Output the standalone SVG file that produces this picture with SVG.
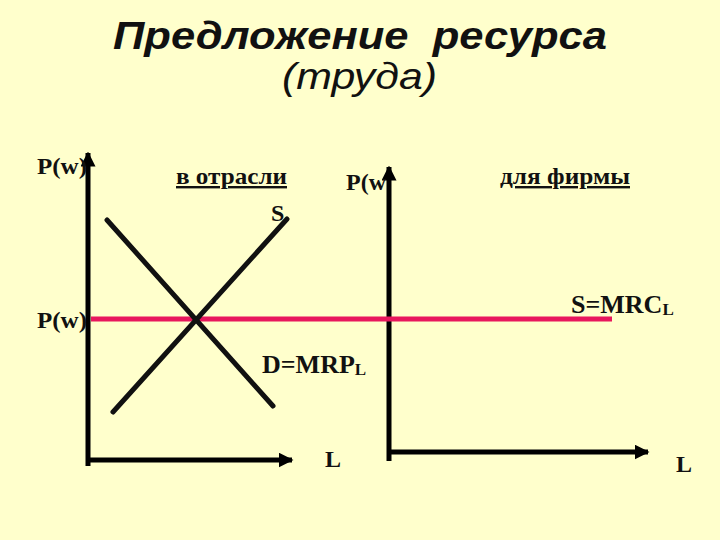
<svg xmlns="http://www.w3.org/2000/svg" width="720" height="540" viewBox="0 0 720 540">
<defs>
<marker id="ah" viewBox="0 0 10 10" refX="9" refY="5" markerWidth="3" markerHeight="3" orient="auto" markerUnits="strokeWidth">
<path d="M0,0 L10,5 L0,10 z" fill="#000"/>
</marker>
<style>
.ax{stroke:#000;stroke-width:5;fill:none}
.ln{stroke:#111;stroke-width:5;fill:none;stroke-linecap:round}
.t{font-family:"Liberation Serif","Times New Roman",serif;font-weight:bold;fill:#111;font-size:24px}
.big{font-size:26px}
.sub{font-size:17px}
.ttl{font-family:"Liberation Sans",Arial,sans-serif;fill:#111}
</style>
</defs>
<rect width="720" height="540" fill="#FFFFCC"/>
<g id="title">
<text class="ttl" x="113" y="49" font-size="39" font-weight="bold" font-style="italic" textLength="494" lengthAdjust="spacingAndGlyphs" xml:space="preserve">Предложение  ресурса</text>
<text class="ttl" x="282" y="89" font-size="37" font-style="italic" textLength="155" lengthAdjust="spacingAndGlyphs">(труда)</text>
</g>
<g id="connectors">
<line class="ax" x1="88" y1="466" x2="88" y2="153" marker-end="url(#ah)"/>
<line class="ax" x1="86" y1="460" x2="292" y2="460" marker-end="url(#ah)"/>
<line class="ax" x1="389" y1="461" x2="389" y2="167" marker-end="url(#ah)"/>
<line class="ax" x1="387" y1="452" x2="648" y2="452" marker-end="url(#ah)"/>
<line x1="91" y1="319" x2="612" y2="319" stroke="#E8175D" stroke-width="5"/>
<line class="ln" x1="107" y1="220" x2="273" y2="406"/>
<line class="ln" x1="113" y1="412" x2="287" y2="219"/>
</g>
<g id="labels-industry">
<text class="t" x="37" y="174" textLength="50" lengthAdjust="spacingAndGlyphs">P(w)</text>
<text class="t" x="176" y="184" textLength="111" lengthAdjust="spacingAndGlyphs" text-decoration="underline">в отрасли</text>
<text class="t" x="271" y="221">S</text>
<text class="t" x="37" y="328" textLength="50" lengthAdjust="spacingAndGlyphs">P(w)</text>
<text class="t big" x="262" y="373">D=MRP<tspan class="sub" dy="2">L</tspan></text>
<text class="t" x="325" y="467">L</text>
</g>
<g id="labels-firm">
<text class="t" x="346" y="190">P(w</text>
<text class="t" x="500" y="184" textLength="130" lengthAdjust="spacingAndGlyphs" text-decoration="underline">для фирмы</text>
<text class="t big" x="571" y="313">S=MRC<tspan class="sub" dy="2">L</tspan></text>
<text class="t" x="676" y="472">L</text>
</g>
</svg>
